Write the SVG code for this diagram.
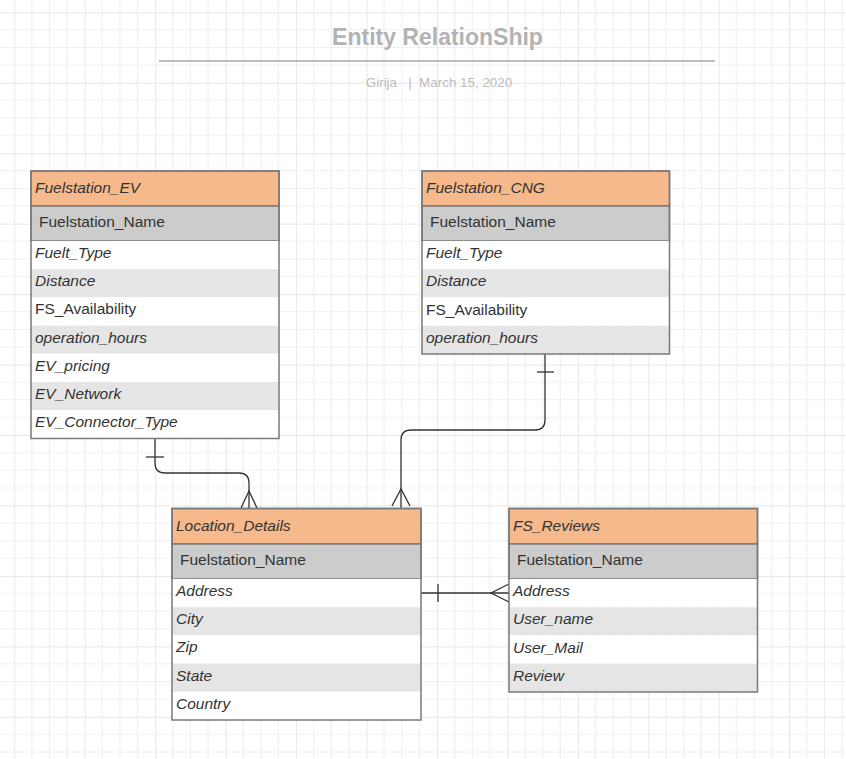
<svg xmlns="http://www.w3.org/2000/svg" width="846" height="759" viewBox="0 0 846 759">
<defs>
<pattern id="grid" x="14.3" y="12.3" width="70.45" height="70.45" patternUnits="userSpaceOnUse">
<path d="M17.61 0V70.45M35.22 0V70.45M52.84 0V70.45M0 17.61H70.45M0 35.22H70.45M0 52.84H70.45" stroke="#efefef" stroke-width="1.2" fill="none"/>
<path d="M0 0V70.45M0 0H70.45" stroke="#e0e0e0" stroke-width="1.4" fill="none"/>
</pattern>
</defs>
<style>
.hd{fill:#f5b98b;stroke:#7a7a7a;stroke-width:1.5}
.nm{fill:#cccccc;stroke:#7a7a7a;stroke-width:1.5}
.w{fill:#ffffff}
.g{fill:#e5e5e5}
.box{fill:none;stroke:#7a7a7a;stroke-width:1.5}
text{font-family:"Liberation Sans",Arial,sans-serif;font-size:15.5px;fill:#333333}
.i{font-style:italic}
.conn{fill:none;stroke:#333333;stroke-width:1.3}
</style>
<rect width="846" height="759" fill="#ffffff"/>
<rect width="846" height="759" fill="url(#grid)"/>

<g id="title">
<text x="437.5" y="45" text-anchor="middle" style="font-size:23px;font-weight:bold;fill:#b3b3b3">Entity RelationShip</text>
<line x1="159" y1="61" x2="715" y2="61" stroke="#bdbdbd" stroke-width="2"/>
<text x="439" y="87" text-anchor="middle" style="font-size:13.4px;fill:#bbbbbb" xml:space="preserve">Girija   |  March 15, 2020</text>
</g>

<g id="connectors">
<path class="conn" d="M155 439V463Q155 473 165 473H239Q249 473 249 483V508"/>
<path class="conn" d="M146 457H164"/>
<path class="conn" d="M241 508L249 491L257 508"/>
<path class="conn" d="M545 354V420Q545 430 535 430H411Q401 430 401 440V508"/>
<path class="conn" d="M537 372H554"/>
<path class="conn" d="M392 506L401 489L410 506"/>
<path class="conn" d="M421 593H509"/>
<path class="conn" d="M438 584V602"/>
<path class="conn" d="M509 584L491 593L509 602"/>
</g>

<g id="fuelstation_ev">
<rect class="hd" x="31" y="171" width="248" height="35"/>
<rect class="nm" x="31" y="206" width="248" height="35"/>
<rect class="w" x="31" y="241" width="248" height="28.2"/>
<rect class="g" x="31" y="269.2" width="248" height="28.2"/>
<rect class="w" x="31" y="297.4" width="248" height="28.2"/>
<rect class="g" x="31" y="325.6" width="248" height="28.2"/>
<rect class="w" x="31" y="353.8" width="248" height="28.2"/>
<rect class="g" x="31" y="382" width="248" height="28.2"/>
<rect class="w" x="31" y="410.2" width="248" height="28.3"/>
<rect class="box" x="31" y="171" width="248" height="267.5"/>
<text class="i" x="35" y="192.5">Fuelstation_EV</text>
<text x="39" y="226.5">Fuelstation_Name</text>
<text class="i" x="35" y="258">Fuelt_Type</text>
<text class="i" x="35" y="286.2">Distance</text>
<text x="35" y="314.4">FS_Availability</text>
<text class="i" x="35" y="342.6">operation_hours</text>
<text class="i" x="35" y="370.8">EV_pricing</text>
<text class="i" x="35" y="399">EV_Network</text>
<text class="i" x="35" y="427.2">EV_Connector_Type</text>
</g>

<g id="fuelstation_cng">
<rect class="hd" x="422" y="171" width="247.5" height="35"/>
<rect class="nm" x="422" y="206" width="247.5" height="35"/>
<rect class="w" x="422" y="241" width="247.5" height="28.25"/>
<rect class="g" x="422" y="269.25" width="247.5" height="28.25"/>
<rect class="w" x="422" y="297.5" width="247.5" height="28.25"/>
<rect class="g" x="422" y="325.75" width="247.5" height="28.25"/>
<rect class="box" x="422" y="171" width="247.5" height="183"/>
<text class="i" x="426" y="192.5">Fuelstation_CNG</text>
<text x="430" y="226.5">Fuelstation_Name</text>
<text class="i" x="426" y="258">Fuelt_Type</text>
<text class="i" x="426" y="286.25">Distance</text>
<text x="426" y="314.5">FS_Availability</text>
<text class="i" x="426" y="342.75">operation_hours</text>
</g>

<g id="location_details">
<rect class="hd" x="172" y="508.5" width="249" height="35.5"/>
<rect class="nm" x="172" y="544" width="249" height="35"/>
<rect class="w" x="172" y="579" width="249" height="28.2"/>
<rect class="g" x="172" y="607.2" width="249" height="28.2"/>
<rect class="w" x="172" y="635.4" width="249" height="28.2"/>
<rect class="g" x="172" y="663.6" width="249" height="28.2"/>
<rect class="w" x="172" y="691.8" width="249" height="28.2"/>
<rect class="box" x="172" y="508.5" width="249" height="211.5"/>
<text class="i" x="176" y="530.5">Location_Details</text>
<text x="180" y="564.5">Fuelstation_Name</text>
<text class="i" x="176" y="596">Address</text>
<text class="i" x="176" y="624.2">City</text>
<text class="i" x="176" y="652.4">Zip</text>
<text class="i" x="176" y="680.6">State</text>
<text class="i" x="176" y="708.8">Country</text>
</g>

<g id="fs_reviews">
<rect class="hd" x="509" y="508.5" width="248.5" height="35.5"/>
<rect class="nm" x="509" y="544" width="248.5" height="35"/>
<rect class="w" x="509" y="579" width="248.5" height="28.25"/>
<rect class="g" x="509" y="607.25" width="248.5" height="28.25"/>
<rect class="w" x="509" y="635.5" width="248.5" height="28.25"/>
<rect class="g" x="509" y="663.75" width="248.5" height="28.25"/>
<rect class="box" x="509" y="508.5" width="248.5" height="183.5"/>
<text class="i" x="513" y="530.5">FS_Reviews</text>
<text x="517" y="564.5">Fuelstation_Name</text>
<text class="i" x="513" y="596">Address</text>
<text class="i" x="513" y="624.25">User_name</text>
<text class="i" x="513" y="652.5">User_Mail</text>
<text class="i" x="513" y="680.75">Review</text>
</g>
</svg>
